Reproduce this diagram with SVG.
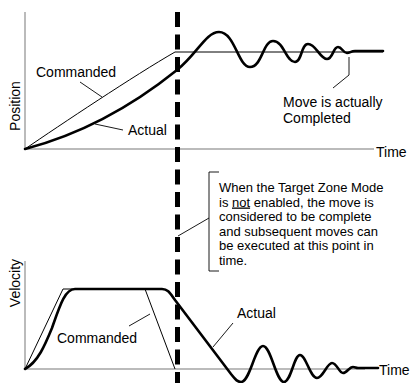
<svg xmlns="http://www.w3.org/2000/svg" width="413" height="383" viewBox="0 0 413 383">
<style>
text{font-family:"Liberation Sans",Arial,sans-serif;font-size:14px;fill:#000}
.note{font-size:13px}
.axis{stroke:#bbb;stroke-width:2;fill:none}
.thin{stroke:#000;stroke-width:1;fill:none}
.thick{stroke:#000;stroke-width:2.6;fill:none;stroke-linejoin:round;stroke-linecap:round}
.ptr{stroke:#000;stroke-width:0.9;fill:none}
.dash{stroke:#000;stroke-width:5;stroke-dasharray:15 7.5;fill:none}
</style>
<rect width="413" height="383" fill="#fff"/>
<g id="position-plot">
<path class="axis" d="M25,12 V149 H374"/>
<text transform="translate(20,106) rotate(-90)" text-anchor="middle">Position</text>
<text x="376" y="157">Time</text>
<path class="thin" d="M25,149 C60,125 135,75 175,52 H383"/>
<path class="thick" d="M25,149 Q105,128 177,70 C197,54 206,32 219,32 C235,32 238,67 250,67 C262,67 263,41 273,41 C284,41 286,62 295,62 C302,62 301,44 308,44 C316,44 320,59 327,59 C333,59 333,47 338,47 C342,47 343,53 347,53 C350,53 351,51 355,51 H383"/>
</g>
<g id="position-labels">
<text x="36" y="77">Commanded</text>
<text x="128" y="135">Actual</text>
<text x="283" y="107">Move is actually</text>
<text x="283" y="122.7">Completed</text>
</g>
<g id="velocity-plot">
<path class="axis" d="M25,261 V369 H365"/>
<text transform="translate(20,283) rotate(-90)" text-anchor="middle">Velocity</text>
<text x="379" y="375">Time</text>
<path class="thin" d="M25,369 L63,289 H145 L175,369"/>
<path class="thick" d="M25,369 C38,362 45,345 52,328 C60,305 65,289 75,289 H162 C168,289 170,293 175,300 L231,374 C235,379 237,382 241,382 C250,382 255,346 263,346 C271,346 276,382 284,382 C291,382 294,355 300,355 C306,355 310,378 317,378 C323,378 327,363 332,363 C337,363 339,373 343,373 C347,373 349,367 353,367 C355,367 356,368 358,368 H378"/>
</g>
<g id="velocity-labels">
<text x="57" y="343">Commanded</text>
<text x="237" y="318">Actual</text>
</g>
<g id="callout">
<path class="ptr" d="M219,172 H209 V271 H219"/>
<text class="note" x="219" y="192">When the Target Zone Mode</text>
<text class="note" x="219" y="206.5">is <tspan text-decoration="underline">not</tspan> enabled, the move is</text>
<text class="note" x="219" y="221">considered to be complete</text>
<text class="note" x="219" y="235.5">and subsequent moves can</text>
<text class="note" x="219" y="250">be executed at this point in</text>
<text class="note" x="219" y="264.5">time.</text>
</g>
<g id="connectors">
<path class="ptr" d="M80,82 L102,97"/>
<path class="ptr" d="M95,124 L123,130"/>
<path class="ptr" d="M349,57 V75 L333,88"/>
<path class="ptr" d="M209,218 L178,236"/>
<path class="ptr" d="M129,326 L150,314"/>
<path class="ptr" d="M233,323 L213,347"/>
</g>
<g id="target-line">
<path class="dash" d="M177.5,12 V383"/>
</g>
</svg>
